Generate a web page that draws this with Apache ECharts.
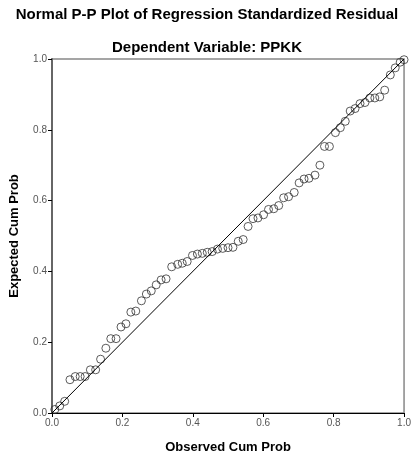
<!DOCTYPE html>
<html>
<head>
<meta charset="utf-8">
<script src="https://cdn.jsdelivr.net/npm/echarts@6/dist/echarts.min.js"></script>
<style>
  html, body { margin: 0; padding: 0; background: #fff; }
  #main { width: 414px; height: 459px; }
</style>
</head>
<body>
<div id="main"></div>
<script>
// observed cum prob (x) and expected cum prob (y)
var observed = [0.008, 0.022, 0.036, 0.051, 0.066, 0.080, 0.094, 0.109, 0.124, 0.138,
	0.153, 0.167, 0.182, 0.196, 0.210, 0.224, 0.238, 0.254, 0.268, 0.282,
	0.296, 0.310, 0.324, 0.340, 0.357, 0.370, 0.384, 0.399, 0.413, 0.427,
	0.441, 0.455, 0.470, 0.485, 0.500, 0.514, 0.529, 0.543, 0.557, 0.571,
	0.585, 0.601, 0.615, 0.630, 0.644, 0.658, 0.672, 0.688, 0.702, 0.716,
	0.730, 0.747, 0.761, 0.774, 0.788, 0.805, 0.819, 0.833, 0.847, 0.861,
	0.875, 0.889, 0.903, 0.917, 0.931, 0.945, 0.961, 0.975, 0.989, 1.000];
var expected = [0.010, 0.020, 0.033, 0.094, 0.103, 0.103, 0.103, 0.122, 0.122, 0.152,
	0.183, 0.210, 0.210, 0.243, 0.252, 0.285, 0.288, 0.317, 0.336, 0.345,
	0.362, 0.376, 0.379, 0.413, 0.420, 0.423, 0.428, 0.445, 0.449, 0.451,
	0.454, 0.456, 0.463, 0.465, 0.467, 0.468, 0.485, 0.490, 0.527, 0.549,
	0.551, 0.560, 0.575, 0.577, 0.586, 0.608, 0.611, 0.623, 0.650, 0.661,
	0.663, 0.672, 0.700, 0.753, 0.753, 0.792, 0.806, 0.824, 0.853, 0.860,
	0.874, 0.877, 0.890, 0.890, 0.893, 0.912, 0.955, 0.975, 0.991, 0.998];
var refLine = [[0, 0], [1, 1]];

var points = [];
for (var i = 0; i < observed.length; i++) {
	points.push([observed[i], expected[i]]);
}

var font = 'Liberation Sans, Arial, sans-serif';

function axisOpt(name, gap) {
	return {
		type: 'value',
		min: 0,
		max: 1,
		interval: 0.2,
		name: name,
		nameLocation: 'middle',
		nameGap: gap,
		nameTextStyle: { fontFamily: font, fontSize: 13, fontWeight: 'bold', color: '#000' },
		axisLine: { show: true, lineStyle: { color: '#000', width: 1 } },
		axisTick: { show: true, inside: false, length: 4, lineStyle: { color: '#000' } },
		axisLabel: {
			fontFamily: font, fontSize: 10, color: '#555', margin: 5,
			formatter: function (v) { return v.toFixed(1); }
		},
		splitLine: { show: false }
	};
}

var xAxis = axisOpt('Observed Cum Prob', 28);
var yAxis = axisOpt('Expected Cum Prob', 31);
yAxis.axisLine.lineStyle = { color: '#666', width: 2 };

var chart = echarts.init(document.getElementById('main'));
chart.setOption({
	animation: false,
	title: [{
		text: 'Normal P-P Plot of Regression Standardized Residual',
		left: 'center',
		top: 2,
		textStyle: { fontFamily: font, fontSize: 15, fontWeight: 'bold', color: '#000' }
	}, {
		text: 'Dependent Variable: PPKK',
		left: 'center',
		top: 35,
		textStyle: { fontFamily: font, fontSize: 15, fontWeight: 'bold', color: '#000' }
	}],
	grid: {
		left: 51, top: 59, width: 357, height: 357,
		show: true, borderColor: '#888', borderWidth: 1.5, backgroundColor: 'transparent'
	},
	xAxis: xAxis,
	yAxis: yAxis,
	series: [{
		type: 'line',
		data: refLine,
		symbol: 'none',
		lineStyle: { color: '#000', width: 1 },
		silent: true
	}, {
		type: 'scatter',
		data: points,
		symbol: 'circle',
		symbolSize: 8,
		itemStyle: { color: 'rgba(255,255,255,0)', borderColor: '#333', borderWidth: 1 }
	}]
});
</script>
</body>
</html>
